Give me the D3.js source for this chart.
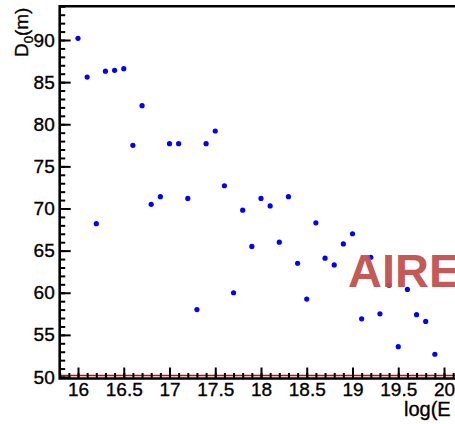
<!DOCTYPE html>
<html><head><meta charset="utf-8">
<script src="https://cdn.jsdelivr.net/npm/d3@7"></script>
<style>
html,body{margin:0;padding:0;background:#fff;overflow:hidden}
text{font-family:"Liberation Sans",Arial,sans-serif}
</style></head>
<body>
<svg id="chart" width="455" height="424"></svg>
<script>
const logE = [16.0,16.1,16.2,16.3,16.4,16.5,16.6,16.7,16.8,16.9,
              17.0,17.1,17.2,17.3,17.4,17.5,17.6,17.7,17.8,17.9,
              18.0,18.1,18.2,18.3,18.4,18.5,18.6,18.7,18.8,18.9,
              19.0,19.1,19.2,19.3,19.4,19.5,19.6,19.7,19.8,19.9];
const D0 = [90.2,85.6,68.2,86.3,86.4,86.6,77.5,82.2,70.5,71.4,
            77.7,77.7,71.2,58.0,77.7,79.2,72.7,60.0,69.8,65.5,
            71.2,70.3,66.0,71.4,63.5,59.25,68.3,64.1,63.3,65.8,
            67.0,56.9,64.2,57.5,60.9,53.6,60.4,57.4,56.6,52.7];
const xTicks = [16,16.5,17,17.5,18,18.5,19,19.5,20];
const xTickLabels = ["16","16.5","17","17.5","18","18.5","19","19.5","20"];
const yTicks = [50,55,60,65,70,75,80,85,90];
const xTitle = "log(E";
const yTitle = "D";
const yTitleSub = "0";
const yTitleUnit = "(m)";
const label = "AIRE";

const svg = d3.select("#chart");
const x = d3.scaleLinear().domain([16,20]).range([78,444]);
const y = d3.scaleLinear().domain([50,90]).range([377,40]);
const x0 = x(15.8), y0 = y(94), xEnd = 470, yBot = y(50);

// red reference line at y=50
svg.append("line").attr("x1",x0).attr("x2",xEnd).attr("y1",yBot-1.5).attr("y2",yBot-1.5)
  .attr("stroke","#e00000").attr("stroke-width",1.5);

// points
svg.append("g").selectAll("circle").data(logE.map((d,i)=>[d,D0[i]])).join("circle")
  .attr("cx",d=>x(d[0])).attr("cy",d=>y(d[1])).attr("r",2.6).attr("fill","#0000ff");

// y axis
const yMinor = d3.range(50,94.01,1);
const gy = svg.append("g").attr("transform",`translate(${x0},0)`);
gy.call(d3.axisLeft(y).tickValues(yMinor).tickSize(-5.5).tickSizeOuter(0).tickFormat(""));
gy.call(g=>g.select(".domain").remove());
const gy2 = svg.append("g").attr("transform",`translate(${x0},0)`);
gy2.call(d3.axisLeft(y).tickValues(yTicks).tickSize(-11).tickSizeOuter(0).tickPadding(5).tickFormat(d3.format("d")));
gy2.call(g=>g.select(".domain").remove());

// x axis
const xMinor = d3.range(15.8,20.25,0.1);
const gx = svg.append("g").attr("transform",`translate(0,${yBot+1.5})`);
gx.call(d3.axisBottom(x).tickValues(xMinor).tickSize(-5.5).tickSizeOuter(0).tickFormat(""));
gx.call(g=>g.select(".domain").remove());
const gx2 = svg.append("g").attr("transform",`translate(0,${yBot+1.5})`);
gx2.call(d3.axisBottom(x).tickValues(xTicks).tickSize(-11).tickSizeOuter(0).tickPadding(4)
  .tickFormat((d,i)=>xTickLabels[i]));
gx2.call(g=>g.select(".domain").remove());

svg.selectAll(".tick line").attr("stroke","#000").attr("stroke-width",2);
svg.selectAll(".tick text").attr("fill","#000").attr("font-size",19)
  .attr("font-family","Liberation Sans, Arial, sans-serif")
  .attr("stroke","#000").attr("stroke-width",0.35);

// frame
svg.append("path").attr("d",`M${xEnd},${y0}H${x0}V${yBot+1.5}H${xEnd}`)
  .attr("fill","none").attr("stroke","#000").attr("stroke-width",2.6);

// titles
svg.append("text").attr("x",404).attr("y",416).attr("font-size",20)
  .attr("stroke","#000").attr("stroke-width",0.35).text(xTitle);
const yt = svg.append("text").attr("transform","translate(28,57) rotate(-90)")
  .attr("font-size",19).attr("stroke","#000").attr("stroke-width",0.35);
yt.append("tspan").text(yTitle);
yt.append("tspan").attr("font-size",13).attr("dy",5).text(yTitleSub);
yt.append("tspan").attr("dy",-5).text(yTitleUnit);

// label
svg.append("text").attr("x",348).attr("y",287).attr("font-size",47).attr("font-weight","bold")
  .attr("fill","#c0504d").attr("fill-opacity",0.95).text(label);
</script>
</body></html>
